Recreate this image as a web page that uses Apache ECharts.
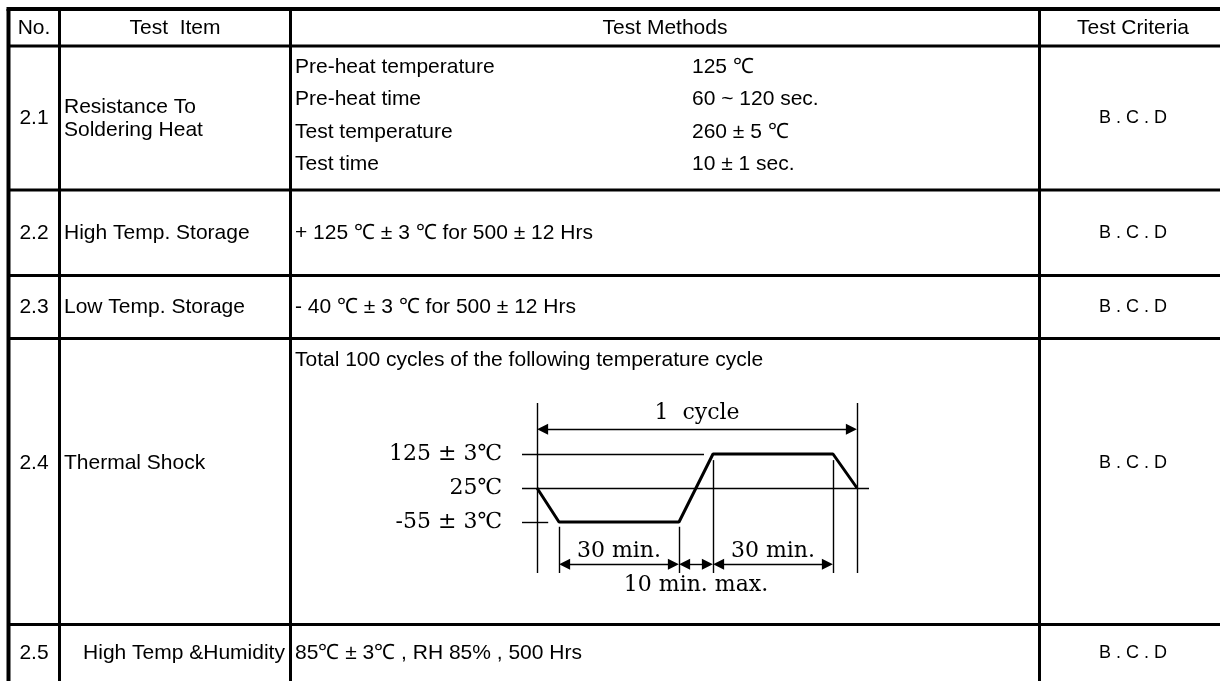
<!DOCTYPE html>
<html>
<head>
<meta charset="utf-8">
<script src="https://cdn.jsdelivr.net/npm/echarts@6/dist/echarts.min.js"></script>
<style>
  html, body { margin: 0; padding: 0; background: #fff; }
  #main { width: 1220px; height: 681px; }
</style>
</head>
<body>
<div id="main"></div>
<script>
  // table content
  var headers = ["No.", "Test  Item", "Test Methods", "Test Criteria"];
  var itemNos = ["2.1", "2.2", "2.3", "2.4", "2.5"];
  var itemNames = [["Resistance To", "Soldering Heat"], ["High Temp. Storage"], ["Low Temp. Storage"], ["Thermal Shock"], ["High Temp &Humidity"]];
  var methodTexts = ["", "+ 125 ℃ ± 3 ℃ for 500 ± 12 Hrs", "- 40 ℃ ± 3 ℃ for 500 ± 12 Hrs", "Total 100 cycles of the following temperature cycle", "85℃ ± 3℃ , RH 85% , 500 Hrs"];
  var solderParams = ["Pre-heat temperature", "Pre-heat time", "Test temperature", "Test time"];
  var solderValues = ["125 ℃", "60 ~ 120 sec.", "260 ± 5 ℃", "10 ± 1 sec."];
  var criteria = ["B . C . D", "B . C . D", "B . C . D", "B . C . D", "B . C . D"];

  // thermal shock cycle (time in min, level index into levelLabels)
  var levelLabels = ["-55 ± 3℃", "25℃", "125 ± 3℃"];
  var cycleTimes = [0, 5.5, 35.5, 44, 74, 80];
  var cycleLevels = [1, 0, 0, 2, 2, 1];
  var spanNames = ["1  cycle", "30 min.", "10 min. max.", "30 min."];

  // layout
  var colX = [8.5, 59.5, 290.5, 1039.5];
  var rowY = [9, 46, 190, 275.5, 338.5, 624.5];
  var W = 1222, H = 681;
  var sans = "'Liberation Sans', Arial, sans-serif";
  var serif = "'DejaVu Serif', 'Liberation Serif', serif";

  var chart = echarts.init(document.getElementById("main"));

  var g = [];
  function line(x1, y1, x2, y2, w) {
    g.push({ type: "line", silent: true, shape: { x1: x1, y1: y1, x2: x2, y2: y2 }, style: { stroke: "#000", lineWidth: w } });
  }
  function text(s, x, y, align, size) {
    g.push({ type: "text", silent: true, x: x, y: y, style: { text: s, fill: "#000", font: (size || 21) + "px " + sans, align: align || "left", verticalAlign: "middle" } });
  }

  line(colX[0] - 2, rowY[0], W, rowY[0], 4);
  line(colX[0], rowY[0], colX[0], H, 4);
  for (var i = 1; i < rowY.length; i++) line(colX[0], rowY[i], W, rowY[i], 3);
  for (var j = 1; j < colX.length; j++) line(colX[j], rowY[0], colX[j], H, 3);

  var headX = [34, 175, 665, 1133];
  headers.forEach(function (h, k) { text(h, headX[k], 28, "center"); });

  var rowTextY = [118, 233, 307, 463, 653];
  itemNos.forEach(function (n, k) {
    text(n, 34, rowTextY[k], "center");
    var names = itemNames[k];
    if (names.length == 2) {
      text(names[0], 64, rowTextY[k] - 11);
      text(names[1], 64, rowTextY[k] + 12);
    } else if (k == 4) {
      text(names[0], 184, rowTextY[k], "center");
    } else {
      text(names[0], 64, rowTextY[k]);
    }
    text(criteria[k], 1133, rowTextY[k], "center", 18);
  });
  var paramY = [67, 99, 132, 164];
  solderParams.forEach(function (p, k) {
    text(p, 295, paramY[k]);
    text(solderValues[k], 692, paramY[k]);
  });
  text(methodTexts[1], 295, 233);
  text(methodTexts[2], 295, 307);
  text(methodTexts[3], 295, 360);
  text(methodTexts[4], 295, 653);

  var cycleData = cycleTimes.map(function (t, k) { return [t, cycleLevels[k]]; });
  var tEnd = cycleTimes[cycleTimes.length - 1];
  var arrowY = -1.24;
  var tip = 1.4; // arrow symbols sit centred on the end point, pull them in

  var guides = [
    [{ coord: [-3.75, 2] }, { coord: [41.75, 2] }],
    [{ coord: [-3.75, 1] }, { coord: [83, 1] }],
    [{ coord: [-3.75, 0] }, { coord: [2.8, 0] }],
    [{ coord: [cycleTimes[0], -1.5] }, { coord: [cycleTimes[0], 3.5] }],
    [{ coord: [tEnd, -1.5] }, { coord: [tEnd, 3.5] }],
    [{ coord: [cycleTimes[1], -1.5] }, { coord: [cycleTimes[1], -0.14] }],
    [{ coord: [cycleTimes[2], -1.5] }, { coord: [cycleTimes[2], -0.14] }],
    [{ coord: [cycleTimes[3], -1.5] }, { coord: [cycleTimes[3], 1.82] }],
    [{ coord: [cycleTimes[4], -1.5] }, { coord: [cycleTimes[4], 1.82] }]
  ];
  var lbl = function (pos, dist) {
    return { show: true, formatter: "{b}", position: pos, distance: dist, color: "#000", fontFamily: serif, fontSize: 22 };
  };
  var arrows = [
    [{ name: spanNames[0], coord: [cycleTimes[0] + tip, 2.73], label: lbl("insideMiddleTop", 5) }, { coord: [tEnd - tip, 2.73] }],
    [{ name: spanNames[1], coord: [cycleTimes[1] + tip, arrowY], label: lbl("insideMiddleTop", 2) }, { coord: [cycleTimes[2] - tip, arrowY] }],
    [{ name: spanNames[2], coord: [cycleTimes[2] + tip, arrowY], label: lbl("insideMiddleBottom", 10) }, { coord: [cycleTimes[3] - tip, arrowY] }],
    [{ name: spanNames[3], coord: [cycleTimes[3] + tip, arrowY], label: lbl("insideMiddleTop", 2) }, { coord: [cycleTimes[4] - tip, arrowY] }]
  ];

  var option = {
    animation: false,
    backgroundColor: "#fff",
    graphic: g,
    grid: { left: 522, top: 403, width: 347, height: 170 },
    xAxis: { type: "value", min: -3.75, max: 83, show: false },
    yAxis: {
      type: "value", min: -1.5, max: 3.5, interval: 0.5,
      axisLine: { show: false }, axisTick: { show: false }, splitLine: { show: false },
      axisLabel: {
        margin: 20, color: "#000", fontFamily: serif, fontSize: 22,
        formatter: function (v) { return (v >= 0 && v <= 2 && v % 1 == 0) ? levelLabels[v] : ""; }
      }
    },
    series: [
      {
        type: "line", data: [], silent: true,
        markLine: { silent: true, symbol: "none", label: { show: false }, lineStyle: { color: "#000", width: 1.4, type: "solid" }, data: guides }
      },
      {
        type: "line", data: [], silent: true,
        markLine: {
          silent: true, symbol: ["triangle", "triangle"], symbolSize: 11,
          lineStyle: { color: "#000", width: 1.4, type: "solid" }, data: arrows
        }
      },
      {
        type: "line", data: cycleData, symbol: "none", silent: true,
        lineStyle: { color: "#000", width: 3 }
      }
    ]
  };
  chart.setOption(option);
</script>
</body>
</html>
